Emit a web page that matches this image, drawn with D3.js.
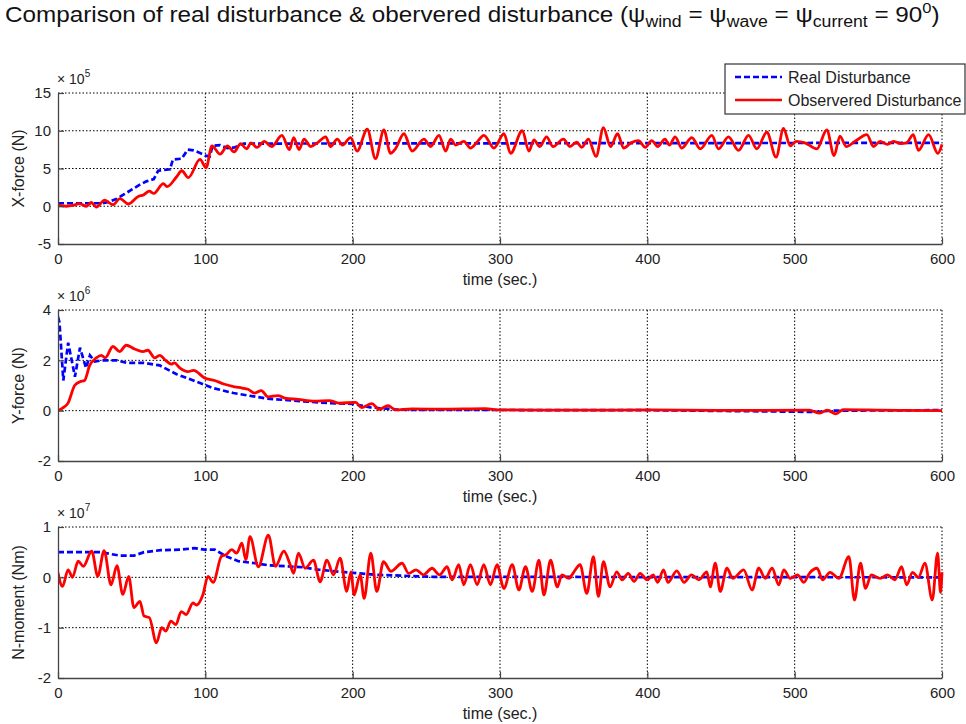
<!DOCTYPE html>
<html>
<head>
<meta charset="utf-8">
<script src="https://cdn.jsdelivr.net/npm/d3@7.9.0/dist/d3.min.js"></script>
<style>
  body { margin: 0; background: #fff; }
  svg { font-family: "Liberation Sans", Arial, Helvetica, sans-serif; }
</style>
</head>
<body>
<svg id="chart" width="966" height="724"></svg>
<script>
// ---- data: [time (s), value in units of 10^exp] ----
const timeTicks = [0, 100, 200, 300, 400, 500, 600];

const xForceTicks = [-5, 0, 5, 10, 15];
const yForceTicks = [-2, 0, 2, 4];
const nMomentTicks = [-2, -1, 0, 1];

const xForceReal = [[0,0.4],[30,0.4],[35,0.6],[40,1.0],[45,1.6],[50,2.2],[55,2.8],[60,3.3],[65,3.6],[68,4.7],[72,4.8],[76,4.9],[78,6.2],[84,6.3],[88,7.5],[92,7.4],[96,7.1],[100,6.7],[103,6.6],[105,8.0],[110,8.1],[115,7.7],[120,7.8],[126,8.3],[600,8.4]];

const xForceObs = [[0,0.2],[5.7,0],[10,0.1],[14.7,0.35],[19.3,0],[22.6,0.5],[26,-0.1],[31.7,0.8],[37.4,0.2],[42,1.0],[47.7,0.3],[54.5,1.3],[58,1.5],[62,2.0],[65,1.7],[71.5,3.0],[74,2.6],[80.5,3.9],[84,4.7],[88.5,3.8],[96.4,6.2],[100.5,5.1],[104.5,8.0],[110,6.9],[115,8.0],[119.5,7.2],[124,8.3],[128,7.6],[131,8.4],[135,7.8],[140,8.6],[145,7.9],[152,9.4],[157,7.5],[160,9.1],[163.6,7.5],[167,8.9],[171.5,7.9],[176,8.4],[181.7,9.2],[185,7.9],[189.6,8.9],[193,8.1],[198.6,9.1],[203,7.3],[209.9,10.2],[215.5,6.3],[221.2,10.1],[225.7,7.0],[229,7.6],[234.8,9.6],[240.4,7.3],[248.4,8.9],[252.9,7.9],[258.6,9.4],[263.1,7.3],[266.5,8.9],[270,8.1],[275.5,8.6],[280,7.7],[284,8.4],[289.1,9.4],[295.9,7.7],[302.7,9.6],[307.2,7.0],[315.1,10.0],[319.7,7.3],[323,8.8],[327,7.9],[331.6,9.2],[336,7.9],[343,8.9],[347.5,7.9],[352,8.5],[355.5,7.8],[360,8.9],[365.2,6.6],[370.2,10.4],[375,7.9],[379.8,9.6],[383.9,7.7],[389,8.4],[394,8.7],[398.6,7.8],[403,8.7],[407,7.9],[412,8.9],[415,8.1],[418.9,9.2],[423.4,7.7],[430.2,9.1],[435.9,7.6],[443.8,9.4],[448.3,7.6],[455.1,9.2],[461.9,7.4],[468.7,9.4],[474.3,7.6],[481.1,9.8],[487.4,6.5],[492.4,10.3],[497,8.0],[501,8.6],[507,8.4],[515,7.6],[521.8,10.1],[526.8,6.7],[530.7,9.3],[535,7.9],[541,8.6],[549,9.5],[553.5,7.9],[558,8.6],[563,8.2],[567,8.6],[572,8.3],[576,8.4],[580.5,9.5],[584,7.4],[590.9,9.5],[597.2,7.0],[600,8.2]];

const yForceReal = [[0,3.73],[1,3.5],[3.6,1.2],[6.9,2.7],[11.5,1.35],[14.9,2.5],[19,1.7],[21.7,2.2],[25,1.95],[30,2.0],[40,2.0],[46.7,1.9],[58,1.9],[69,1.8],[80.5,1.45],[96.4,1.1],[105,0.9],[119,0.7],[141.7,0.48],[164.3,0.38],[183.5,0.3],[200,0.27],[212,0.13],[229,0.05],[240,0.03],[400,0.02],[515,-0.05],[525,0.0],[600,0.02]];

const yForceObs = [[0,0],[3,0.1],[6.8,0.3],[11.3,1.0],[14.9,1.15],[18,1.2],[21.5,1.8],[26,2.1],[29.4,2.2],[32,2.1],[37.3,2.55],[41.8,2.35],[46.3,2.6],[52,2.45],[57.7,2.35],[61,2.4],[65.6,2.1],[69,2.2],[73,2.0],[76.9,1.85],[79,1.9],[82.6,1.7],[88.2,1.55],[92,1.6],[99.5,1.3],[106.3,1.2],[113.1,1.05],[119.9,0.95],[125,0.9],[129,0.85],[133.5,0.7],[138,0.8],[142.5,0.55],[149.3,0.6],[153.9,0.5],[162.9,0.45],[174.2,0.38],[184,0.4],[191,0.3],[202,0.33],[206,0.12],[213,0.28],[218,0.05],[224,0.2],[229,0.03],[240,0.07],[260,0.06],[290,0.08],[300,0.03],[350,0.02],[400,0.03],[450,0.01],[510,0.02],[517,-0.1],[522,0.02],[528,-0.13],[533,0.04],[560,0.02],[600,0]];

const nMomentReal = [[0,0.5],[28.6,0.5],[42.3,0.43],[51.5,0.43],[58.4,0.5],[69.8,0.54],[83.5,0.55],[92.7,0.58],[99.5,0.55],[106.4,0.55],[113.3,0.43],[122.4,0.32],[133.9,0.28],[143,0.24],[154.5,0.22],[166,0.2],[177.3,0.15],[191.7,0.11],[216.6,0.05],[255,0.01],[600,0]];

const nMomentObs = [[0,0.09],[3,-0.18],[6.9,0.15],[9.8,0],[13.7,0.32],[17.2,0.22],[22.9,0.52],[27,0.02],[31.3,0.53],[36,-0.15],[40,0.23],[44,-0.34],[48,0.02],[51.5,-0.6],[55.6,-0.48],[58.4,-0.77],[62,-0.8],[66.8,-1.3],[70.4,-1.0],[73.2,-1.07],[76.6,-0.87],[80,-0.94],[83.6,-0.68],[87,-0.74],[91.6,-0.51],[94,-0.55],[98.4,-0.34],[101.8,0.02],[105.3,-0.1],[111,0.42],[114,0.45],[117.9,0.55],[121.3,0.48],[124.8,0.68],[127.5,0.35],[130.3,0.81],[136,0.21],[142.8,0.84],[147.6,0.22],[153.3,0.52],[157.6,0.25],[159.9,0.08],[163.2,0.48],[167.7,0.18],[173.4,0.34],[177.9,-0.09],[182.5,0.34],[187,0.05],[191.5,0.38],[196,-0.28],[198.8,0.11],[201,-0.35],[205.1,0.05],[207.8,-0.42],[212.3,0.48],[216.4,-0.28],[220.9,0.31],[226,0.12],[233.5,0.28],[238,0.08],[243,0.15],[248,0.05],[253.9,0.18],[259,0.05],[264.1,0.21],[267.5,-0.05],[272,0.25],[275.4,-0.15],[279.9,0.25],[284.5,-0.15],[289,0.25],[293.5,-0.15],[298,0.25],[302.6,-0.22],[308.3,0.25],[312.8,-0.25],[317.3,0.21],[321.9,-0.28],[326.4,0.34],[329.8,-0.35],[334.3,0.34],[338.9,-0.19],[342,0.05],[346.8,-0.02],[350,0.1],[354.4,0.25],[358.9,-0.32],[363.4,0.41],[366.8,-0.38],[370.2,0.31],[374.7,-0.19],[379.2,0.11],[383,-0.05],[387,0.08],[391,-0.08],[395.1,0.08],[400,-0.05],[404,0.05],[407,-0.1],[411,0.15],[414,-0.1],[420,0.13],[425,-0.1],[430,0.05],[435,-0.05],[440.4,0.11],[442.7,-0.19],[446.1,0.28],[449.5,-0.28],[454,0.18],[458,-0.02],[465.4,0.15],[471.1,-0.25],[475.6,0.18],[480,-0.02],[484.7,0.18],[489.2,-0.15],[492.6,0.15],[497,-0.02],[502,0.05],[506.2,-0.1],[510,0.08],[515.2,0.18],[519,-0.05],[524,0.1],[530,-0.02],[536.8,0.41],[540.6,-0.45],[544.7,0.28],[548.1,-0.22],[552,0.05],[558,-0.02],[563,0.05],[568,-0.05],[572.6,0.21],[576,-0.15],[580,0.1],[584,0.0],[588.4,0.28],[593.4,-0.45],[597,0.48],[599,-0.3],[600,0.1]];

const legendLabels = ['Real Disturbance', 'Observered Disturbance'];

// ---- layout ----
const svg = d3.select('#chart');
const left = 58, right = 942, panelH = 151;
const blue = '#0000ff', red = '#ff0000', axisColor = '#444', textColor = '#222';

const panels = [
  { top: 93,  label: 'X-force (N)',   exp: '5', ticks: xForceTicks,  real: xForceReal,  obs: xForceObs },
  { top: 310, label: 'Y-force (N)',   exp: '6', ticks: yForceTicks,  real: yForceReal,  obs: yForceObs },
  { top: 527, label: 'N-moment (Nm)', exp: '7', ticks: nMomentTicks, real: nMomentReal, obs: nMomentObs }
];

const x = d3.scaleLinear().domain([0, 600]).range([left, right]);

panels.forEach((p, i) => {
  const y = d3.scaleLinear()
    .domain(d3.extent(p.ticks))
    .range([p.top + panelH, p.top]);

  const g = svg.append('g');

  // dotted grid
  g.selectAll('.gx').data(timeTicks.slice(1)).enter().append('line')
    .attr('x1', d => x(d)).attr('x2', d => x(d))
    .attr('y1', p.top).attr('y2', p.top + panelH)
    .attr('stroke', '#000').attr('stroke-width', 1).attr('stroke-dasharray', '1.5,2');
  g.selectAll('.gy').data(p.ticks.slice(1)).enter().append('line')
    .attr('x1', left).attr('x2', right)
    .attr('y1', d => y(d)).attr('y2', d => y(d))
    .attr('stroke', '#000').attr('stroke-width', 1).attr('stroke-dasharray', '1.5,2');

  // clip
  const clipId = 'clip' + i;
  svg.append('clipPath').attr('id', clipId).append('rect')
    .attr('x', left).attr('y', p.top - 2).attr('width', right - left + 2).attr('height', panelH + 2);

  const lineSmooth = d3.line().x(d => x(d[0])).y(d => y(d[1])).curve(d3.curveMonotoneX);
  const lineStraight = d3.line().x(d => x(d[0])).y(d => y(d[1]));

  g.append('path').datum(p.real)
    .attr('clip-path', `url(#${clipId})`)
    .attr('d', lineStraight)
    .attr('fill', 'none').attr('stroke', blue).attr('stroke-width', 2.7)
    .attr('stroke-dasharray', '6,3');

  g.append('path').datum(p.obs)
    .attr('clip-path', `url(#${clipId})`)
    .attr('d', lineSmooth)
    .attr('fill', 'none').attr('stroke', red).attr('stroke-width', 2.8)
    .attr('stroke-linejoin', 'round');

  // axes
  const xAxis = g.append('g')
    .attr('transform', `translate(0,${p.top + panelH})`)
    .call(d3.axisBottom(x).tickValues(timeTicks).tickFormat(d => String(d))
      .tickSizeInner(-6).tickSizeOuter(0).tickPadding(9));
  const yAxis = g.append('g')
    .attr('transform', `translate(${left},0)`)
    .call(d3.axisLeft(y).tickValues(p.ticks).tickFormat(d => String(d))
      .tickSizeInner(-6).tickSizeOuter(0).tickPadding(7));

  [xAxis, yAxis].forEach(a => {
    a.select('.domain').attr('stroke', axisColor).attr('stroke-width', 1.3);
    a.selectAll('.tick line').attr('stroke', axisColor).attr('stroke-width', 1.2);
    a.selectAll('.tick text').attr('fill', textColor).attr('font-size', 15)
      .attr('font-family', '"Liberation Sans", Arial, sans-serif');
  });

  // axis labels
  g.append('text')
    .attr('x', (left + right) / 2).attr('y', p.top + panelH + 41)
    .attr('text-anchor', 'middle').attr('font-size', 16).attr('fill', textColor)
    .text('time (sec.)');

  g.append('text')
    .attr('transform', `translate(24,${p.top + panelH / 2}) rotate(-90)`)
    .attr('text-anchor', 'middle').attr('font-size', 16).attr('fill', textColor)
    .text(p.label);

  // exponent
  const ex = g.append('text')
    .attr('x', left - 1).attr('y', p.top - 9)
    .attr('font-size', 14).attr('fill', textColor);
  ex.append('tspan').text('\u00d7 10');
  ex.append('tspan').attr('dy', -7).attr('font-size', 10).text(p.exp);
});

// ---- legend ----
const lg = svg.append('g');
lg.append('rect').attr('x', 725).attr('y', 64).attr('width', 240).attr('height', 50)
  .attr('fill', '#fff').attr('stroke', '#333').attr('stroke-width', 1.2);
const legendStyles = [
  { color: blue, dash: '6,3', y: 77 },
  { color: red, dash: null, y: 100 }
];
legendLabels.forEach((lab, i) => {
  const s = legendStyles[i];
  lg.append('line').attr('x1', 735).attr('x2', 782).attr('y1', s.y).attr('y2', s.y)
    .attr('stroke', s.color).attr('stroke-width', 2.6).attr('stroke-dasharray', s.dash);
  lg.append('text').attr('x', 788).attr('y', s.y + 5.5)
    .attr('font-size', 16).attr('fill', textColor).text(lab);
});

// ---- title ----
const title = svg.append('text').attr('font-size', 22).attr('fill', '#111');
title.append('tspan').text('Comparison of real disturbance & obervered disturbance (\u03c8');
title.append('tspan').attr('dy', 5).attr('font-size', 16).text('wind');
title.append('tspan').attr('dy', -5).text(' = \u03c8');
title.append('tspan').attr('dy', 5).attr('font-size', 16).text('wave');
title.append('tspan').attr('dy', -5).text(' = \u03c8');
title.append('tspan').attr('dy', 5).attr('font-size', 16).text('current');
title.append('tspan').attr('dy', -5).text(' = 90');
title.append('tspan').attr('dy', -9).attr('font-size', 15).text('0');
title.append('tspan').attr('dy', 9).text(')');
const tw = title.node().getComputedTextLength();
title.attr('transform', `translate(5,22) scale(${935 / tw},1)`);
</script>
</body>
</html>
